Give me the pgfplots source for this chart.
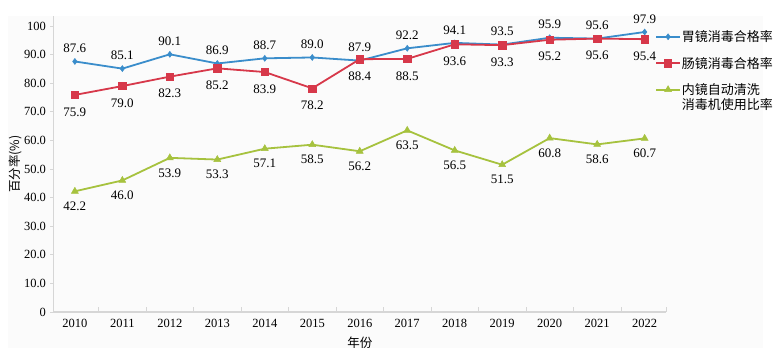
\documentclass[border=0pt]{standalone}
\usepackage{pgfplots}
\pgfplotsset{compat=1.18}
\usepackage{fontspec}
\setmainfont{Liberation Serif}
\newfontfamily\cjk{Noto Sans CJK SC}
\definecolor{cblue}{HTML}{3A8DCB}
\definecolor{cred}{HTML}{D7384A}
\definecolor{cgreen}{HTML}{A6C23E}
\definecolor{axgray}{HTML}{D6D6D6}
\begin{document}
\begin{tikzpicture}[x=1pt,y=1pt]
\path[use as bounding box] (0,0) rectangle (783,358);
\fill[gray!3] (8,10) rectangle (763,342);
\begin{axis}[
  at={(53.5pt,46pt)}, anchor=south west,
  scale only axis, width=612.5pt, height=296pt,
  xmin=-0.45, xmax=12.45, ymin=0, ymax=103.5,
  axis lines=left, axis line style={axgray, line width=1.2pt, -},
  clip=false,
  font=\fontsize{12.5}{14}\selectfont,
  /pgf/number format/assume math mode=true,
  xtick={0,...,12},
  xticklabels={2010,2011,2012,2013,2014,2015,2016,2017,2018,2019,2020,2021,2022},
  major x tick style={draw=none},
  minor xtick={0.5,1.5,...,11.5,12.45},
  minor tick length=5pt,
  minor x tick style={axgray, line width=0.8pt},
  x tick label style={yshift=-4pt},
  xtick align=inside,
  ytick={0,10,...,100},
  yticklabels={0,10.0,20.0,30.0,40.0,50.0,60.0,70.0,80.0,90.0,100},
  ytick align=outside, major tick length=3pt,
  major y tick style={axgray, line width=0.8pt},
  y tick label style={xshift=-1pt},
  xlabel={\cjk 年份}, xlabel style={yshift=-2pt, font=\cjk\fontsize{12.5}{14}\selectfont},
  ylabel={\cjk 百分率(\%)}, ylabel style={yshift=-5pt, font=\cjk\fontsize{12.5}{14}\selectfont},
  nodes near coords,
  nodes near coords style={font=\fontsize{13}{15}\selectfont, anchor=center, text=black,
    /pgf/number format/fixed, /pgf/number format/fixed zerofill, /pgf/number format/precision=1},
  legend style={at={(rel axis cs:0.982,0.955)}, anchor=north west, draw=none, fill=none,
    font=\cjk\fontsize{13}{15.5}\selectfont, inner sep=0pt, row sep=12pt,
    nodes={inner sep=1pt}},
  legend cell align=left,
  legend image code/.code={\draw[mark repeat=2,mark phase=2] plot coordinates {(0pt,0pt)(12pt,0pt)(24pt,0pt)};},
]
\addplot[cblue, line width=1.8pt, mark=diamond*, mark size=3pt, mark options={line width=0.5pt},
  every node near coord/.append style={yshift=13pt}]
  coordinates {(0,87.6)(1,85.1)(2,90.1)(3,86.9)(4,88.7)(5,89.0)(6,87.9)(7,92.2)(8,94.1)(9,93.5)(10,95.9)(11,95.6)(12,97.9)};
\addlegendentry{胃镜消毒合格率}
\addplot[cred, line width=1.8pt, mark=square*, mark size=3.6pt, mark options={line width=0.5pt},
  every node near coord/.append style={yshift=-17pt}]
  coordinates {(0,75.9)(1,79.0)(2,82.3)(3,85.2)(4,83.9)(5,78.2)(6,88.4)(7,88.5)(8,93.6)(9,93.3)(10,95.2)(11,95.6)(12,95.4)};
\addlegendentry{肠镜消毒合格率}
\addplot[cgreen, line width=1.8pt, mark=triangle*, mark size=4pt, mark options={line width=0.5pt},
  every node near coord/.append style={yshift=-15pt}]
  coordinates {(0,42.2)(1,46.0)(2,53.9)(3,53.3)(4,57.1)(5,58.5)(6,56.2)(7,63.5)(8,56.5)(9,51.5)(10,60.8)(11,58.6)(12,60.7)};
\addlegendentry{\vphantom{内}\smash{\parbox[t]{9em}{内镜自动清洗\\消毒机使用比率}}}
\end{axis}
\end{tikzpicture}
\end{document}
